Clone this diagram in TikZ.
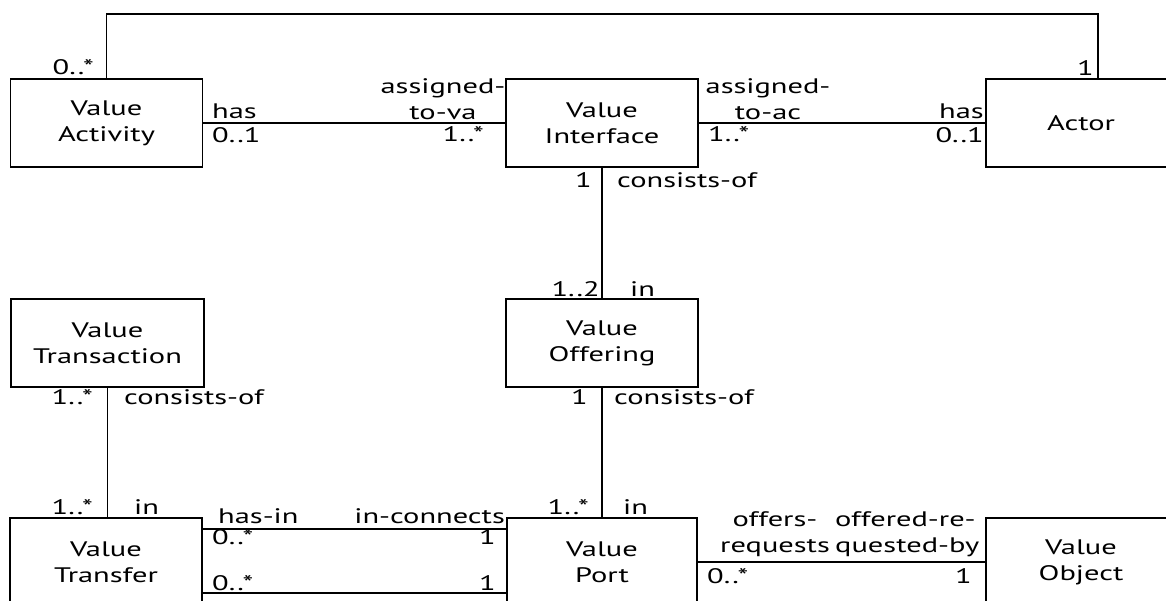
\documentclass[tikz,border=0pt]{standalone}
\usepackage{fontspec}
\setmainfont{PT Sans}[FakeStretch=1.45]
\begin{document}
\begin{tikzpicture}[x=1pt,y=-1pt,
  every node/.style={font=\fontsize{21}{26}\selectfont},
  cls/.style={draw, line width=1.6pt, minimum width=192pt, minimum height=88pt,
              align=center, inner sep=0pt},
  conn/.style={line width=1.6pt},
  lbl/.style={inner sep=0pt},
]
\useasboundingbox (0,0) rectangle (1166,601);
\clip (0,0) rectangle (1166,601);
\fill[white] (0,0) rectangle (1166,601);

% classes
\node[cls] (va) at (106.5,123) {Value\\Activity};
\node[cls] (vi) at (602,123) {Value\\Interface};
\node[cls, minimum width=190pt] (ac) at (1081,123) {Actor};
\node[cls, minimum width=193pt] (vt) at (107.5,343) {Value\\Transaction};
\node[cls] (vo) at (602,343) {Value\\Offering};
\node[cls] (vx) at (106,562) {Value\\Transfer};
\node[cls, minimum width=190pt] (vp) at (602,562) {Value\\Port};
\node[cls, minimum width=190pt] (ob) at (1081,562) {Value\\Object};

% associations
\coordinate (top) at (0,14);
\draw[conn] (va.north) -- (va.north |- top) -| ([xshift=17pt]ac.north);
\draw[conn] (va.east) -- (vi.west);
\draw[conn] (vi.east) -- (ac.west);
\draw[conn] (vi.south) -- (vo.north);
\draw[conn] (vo.south) -- (vp.north);
\draw[conn] (vt.south) -- (vt.south |- vx.north);
\draw[conn] ([yshift=33pt]vx.east) -- ([yshift=33pt]vx.east -| vp.west);
\draw[conn] ([yshift=-31pt]vx.east) -- ([yshift=-31pt]vx.east -| vp.west);
\draw[conn] (vp.east) -- (ob.west);

% roles and multiplicities
\node[lbl, anchor=base east] at (94,75) {0..*};
\node[lbl, anchor=base east] at (1094,76) {1};
\node[lbl, anchor=base west] at (212,119) {has};
\node[lbl, anchor=base west] at (212,143) {0..1};
\node[lbl, align=center] at (443,99.5) {assigned-\\to-va};
\node[lbl, anchor=base east] at (484,142) {1..*};
\node[lbl, align=center] at (768,99.5) {assigned-\\to-ac};
\node[lbl, anchor=base west] at (708,142) {1..*};
\node[lbl, anchor=base east] at (984,119) {has};
\node[lbl, anchor=base east] at (984,143) {0..1};
\node[lbl, anchor=base east] at (592,188) {1};
\node[lbl, anchor=base west] at (617,188) {consists-of};
\node[lbl, anchor=base east] at (600,297) {1..2};
\node[lbl, anchor=base west] at (630,297) {in};
\node[lbl, anchor=base east] at (93,404) {1..*};
\node[lbl, anchor=base west] at (124,404) {consists-of};
\node[lbl, anchor=base east] at (588,404) {1};
\node[lbl, anchor=base west] at (614,404) {consists-of};
\node[lbl, anchor=base east] at (93,514) {1..*};
\node[lbl, anchor=base west] at (134,514) {in};
\node[lbl, anchor=base east] at (589,514) {1..*};
\node[lbl, anchor=base west] at (623,514) {in};
\node[lbl, anchor=base west] at (218,523) {has-in};
\node[lbl, anchor=base east] at (505,523) {in-connects};
\node[lbl, anchor=base west] at (212,544) {0..*};
\node[lbl, anchor=base east] at (496,544) {1};
\node[lbl, anchor=base west] at (212,590) {0..*};
\node[lbl, anchor=base east] at (496,590) {1};
\node[lbl, align=center] at (775,534) {offers-\\requests};
\node[lbl, align=left, anchor=west] at (835,534) {offered-re-\\quested-by};
\node[lbl, anchor=base west] at (707,583) {0..*};
\node[lbl, anchor=base east] at (972,583) {1};
\end{tikzpicture}
\end{document}
